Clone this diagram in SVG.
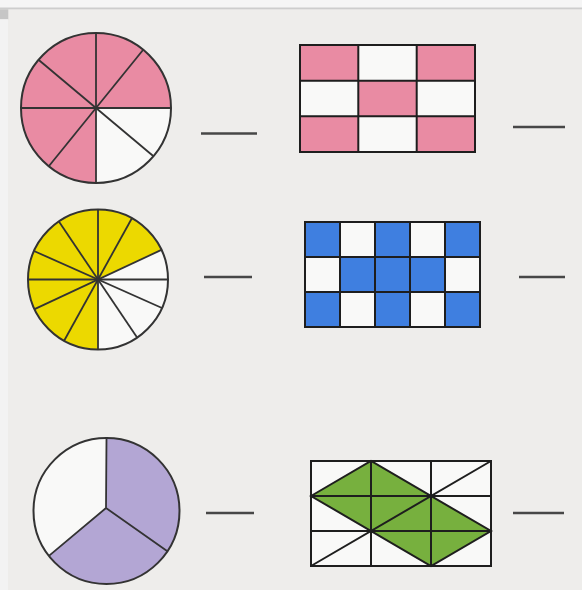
<svg xmlns="http://www.w3.org/2000/svg" width="582" height="590" viewBox="0 0 582 590">
<style>
.out{fill:none;stroke:#333;stroke-width:2}
.ln{stroke:#333;stroke-width:1.8;fill:none}
.grid{fill:none;stroke:#1e1e1e;stroke-width:2}
.blank{stroke:#474747;stroke-width:2.5}
.w{fill:#f9f9f8}
</style>
<rect x="0" y="0" width="582" height="590" fill="#eeedeb"/>
<rect x="0" y="0" width="582" height="8" fill="#f5f5f5"/>
<rect x="0" y="7.5" width="582" height="1.8" fill="#cdcdcd"/>
<rect x="0" y="9.3" width="8.3" height="10" fill="#c6c6c6"/>
<rect x="0" y="19.3" width="8" height="571" fill="#f3f3f3"/>

<g id="pink-circle">
<circle cx="96" cy="108" r="75" class="w"/>
<path d="M96 108 L171 108 A75 75 0 1 0 96 183 Z" fill="#e98ba3"/>
<line x1="96" y1="33" x2="96" y2="183" class="ln"/>
<line x1="21" y1="108" x2="171" y2="108" class="ln"/>
<line x1="143.2" y1="49.7" x2="48.8" y2="166.3" class="ln"/>
<line x1="38.5" y1="59.8" x2="153.5" y2="156.2" class="ln"/>
<circle cx="96" cy="108" r="75" class="out"/>
</g>

<g id="pink-grid">
<rect x="300" y="45" width="58.3" height="35.7" fill="#e98ba3"/>
<rect x="358.3" y="45" width="58.4" height="35.7" class="w"/>
<rect x="416.7" y="45" width="58.3" height="35.7" fill="#e98ba3"/>
<rect x="300" y="80.7" width="58.3" height="35.6" class="w"/>
<rect x="358.3" y="80.7" width="58.4" height="35.6" fill="#e98ba3"/>
<rect x="416.7" y="80.7" width="58.3" height="35.6" class="w"/>
<rect x="300" y="116.3" width="58.3" height="35.7" fill="#e98ba3"/>
<rect x="358.3" y="116.3" width="58.4" height="35.7" class="w"/>
<rect x="416.7" y="116.3" width="58.3" height="35.7" fill="#e98ba3"/>
<path d="M358.3 45V152M416.7 45V152M300 80.7H475M300 116.3H475" class="grid"/>
<rect x="300" y="45" width="175" height="107" class="grid"/>
</g>

<g id="yellow-circle">
<circle cx="98" cy="279.5" r="70" class="w"/>
<path d="M98 279.5 L161.4 249.9 A70 70 0 1 0 98 349.5 Z" fill="#ecd900"/>
<line x1="28" y1="279.5" x2="168" y2="279.5" class="ln"/>
<line x1="98" y1="209.5" x2="98" y2="349.5" class="ln"/>
<line x1="161.4" y1="249.9" x2="34.6" y2="309.1" class="ln"/>
<line x1="131.9" y1="218.3" x2="64.1" y2="340.7" class="ln"/>
<line x1="58.9" y1="221.5" x2="137.1" y2="337.5" class="ln"/>
<line x1="34" y1="251" x2="162" y2="308" class="ln"/>
<circle cx="98" cy="279.5" r="70" class="out"/>
</g>

<g id="blue-grid">
<rect x="305" y="222" width="175" height="105" class="w"/>
<g fill="#3f7fe0">
<rect x="305" y="222" width="35" height="35"/>
<rect x="375" y="222" width="35" height="35"/>
<rect x="445" y="222" width="35" height="35"/>
<rect x="340" y="257" width="105" height="35"/>
<rect x="305" y="292" width="35" height="35"/>
<rect x="375" y="292" width="35" height="35"/>
<rect x="445" y="292" width="35" height="35"/>
</g>
<path d="M340 222V327M375 222V327M410 222V327M445 222V327M305 257H480M305 292H480" class="grid"/>
<rect x="305" y="222" width="175" height="105" class="grid"/>
</g>

<g id="purple-circle">
<circle cx="106.5" cy="511" r="73" class="w"/>
<path d="M106 508 L106.5 438 A73 73 0 1 1 48.9 555.9 Z" fill="#b3a6d4"/>
<path d="M106.5 438 L106 508 L48.9 555.9 M106 508 L167.4 551.3" class="ln"/>
<circle cx="106.5" cy="511" r="73" class="out"/>
</g>

<g id="green-grid">
<rect x="311" y="461" width="180" height="105" class="w"/>
<path d="M311 496 L371 461 L491 531 L431 566 L311 496 Z" fill="#77b03e"/>
<path d="M371 461V566M431 461V566M311 496H491M311 531H491" class="grid"/>
<path d="M311 566 L491 461 M311 496 L371 461 L491 531 L431 566 Z" class="grid"/>
<rect x="311" y="461" width="180" height="105" class="grid"/>
</g>

<g id="blanks">
<line x1="201" y1="133.5" x2="257" y2="133.5" class="blank"/>
<line x1="513" y1="127" x2="565" y2="127" class="blank"/>
<line x1="204" y1="277" x2="252" y2="277" class="blank"/>
<line x1="519" y1="277" x2="565" y2="277" class="blank"/>
<line x1="206" y1="513" x2="254" y2="513" class="blank"/>
<line x1="513" y1="513" x2="564" y2="513" class="blank"/>
</g>
</svg>
